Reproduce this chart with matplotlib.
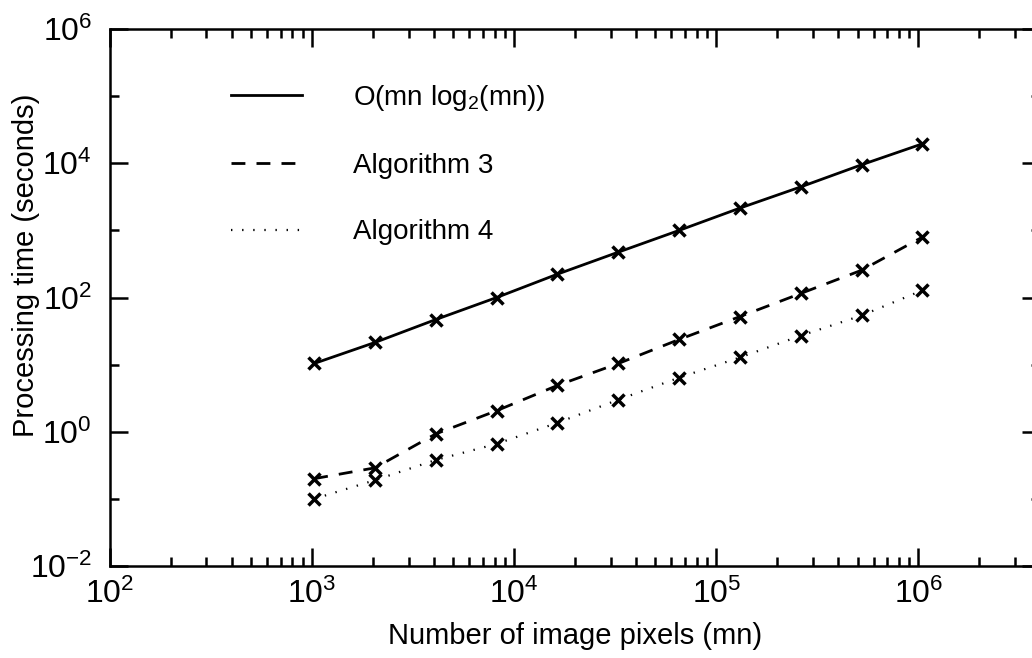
import matplotlib
matplotlib.use("Agg")
import matplotlib.pyplot as plt
from matplotlib.ticker import LogLocator, LogFormatterSciNotation, NullFormatter, FixedLocator

plt.rcParams['font.family'] = ['Liberation Sans', 'DejaVu Sans']
plt.rcParams['mathtext.fontset'] = 'custom'
plt.rcParams['mathtext.rm'] = 'Liberation Sans'
plt.rcParams['mathtext.it'] = 'Liberation Sans'
plt.rcParams['mathtext.default'] = 'regular'
plt.rcParams['lines.scale_dashes'] = False

# data
pixels = [1024, 2048, 4096, 8192, 16384, 32768, 65536, 131072, 262144, 524288, 1048576]
theory = [10.4, 21.4, 47, 100, 223, 474, 1000, 2150, 4450, 9500, 19500]
alg3 = [0.20, 0.29, 0.93, 2.06, 4.9, 10.4, 23.7, 52, 115, 255, 795]
alg4 = [0.10, 0.19, 0.38, 0.66, 1.36, 3.0, 6.4, 12.8, 27, 54, 128]
labels = [r'O(mn log$_2$(mn))', 'Algorithm 3', 'Algorithm 4']

W, H = 1032, 658
fig = plt.figure(figsize=(W / 100, H / 100), dpi=100)
left, right, bottom, top = 110, 1040, 566, 29
ax = fig.add_axes([left / W, 1 - bottom / H, (right - left) / W, (bottom - top) / H])

mk = dict(marker='x', markersize=9, markeredgewidth=2.5, color='black')
ax.plot(pixels, theory, linestyle='-', linewidth=2.0, label=labels[0], **mk)
ax.plot(pixels, alg3, linestyle=(0, (10, 8)), linewidth=2.0, label=labels[1], **mk)
ax.plot(pixels, alg4, linestyle=(0, (1, 7)), linewidth=1.6, label=labels[2], **mk)

ax.set_xscale('log')
ax.set_yscale('log')
ax.set_xlim(1e2, 4e6)
ax.set_ylim(1e-2, 1e6)

ax.xaxis.set_major_locator(LogLocator(base=10, numticks=20))
ax.xaxis.set_minor_locator(LogLocator(base=10, subs=range(2, 10), numticks=20))
ax.xaxis.set_minor_formatter(NullFormatter())
ax.yaxis.set_major_locator(FixedLocator([1e-2, 1e0, 1e2, 1e4, 1e6]))
ax.yaxis.set_minor_locator(FixedLocator([1e-1, 1e1, 1e3, 1e5]))
ax.yaxis.set_major_formatter(LogFormatterSciNotation())
ax.yaxis.set_minor_formatter(NullFormatter())

ax.tick_params(which='both', direction='in', top=True, right=True, width=1.8, colors='black')
ax.tick_params(which='major', length=13, labelsize=23)
ax.tick_params(which='minor', length=6.5)
ax.tick_params(axis='y', which='major', pad=13)
ax.tick_params(axis='x', which='major', pad=9)
for s in ax.spines.values():
    s.set_linewidth(1.8)

ax.set_xlabel('Number of image pixels (mn)', fontsize=21)
ax.xaxis.set_label_coords(0.5, -0.105)
ax.set_ylabel('Processing time (seconds)', fontsize=21)
ax.yaxis.set_label_coords(-0.075, 0.56)

leg = ax.legend(loc='upper left', bbox_to_anchor=(0.130, 0.90), frameon=False,
                fontsize=20, handlelength=2.55, handletextpad=1.83, labelspacing=1.45,
                borderpad=0, borderaxespad=0)
for h in leg.legend_handles:
    h.set_marker('')

fig.savefig('out.png', dpi=100)
